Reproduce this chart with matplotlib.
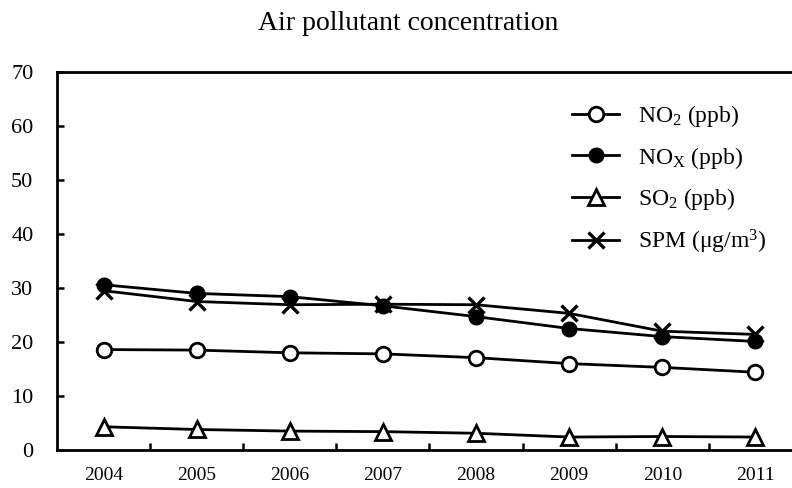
import matplotlib
matplotlib.use("Agg")
import matplotlib.pyplot as plt
from matplotlib.ticker import FixedLocator

plt.rcParams['font.family'] = ['Liberation Serif', 'DejaVu Serif']
plt.rcParams['mathtext.fontset'] = 'custom'
plt.rcParams['mathtext.rm'] = 'Liberation Serif'
plt.rcParams['mathtext.it'] = 'Liberation Serif:italic'

years = ['2004', '2005', '2006', '2007', '2008', '2009', '2010', '2011']
no2 = [18.6, 18.5, 18.0, 17.8, 17.1, 16.0, 15.3, 14.4]
nox = [30.6, 29.0, 28.4, 26.7, 24.7, 22.5, 21.0, 20.1]
so2 = [4.3, 3.8, 3.5, 3.4, 3.1, 2.4, 2.5, 2.4]
spm = [29.5, 27.5, 26.9, 27.0, 26.9, 25.3, 22.0, 21.4]

labels = [r'NO$_\mathrm{2}$ (ppb)', r'NO$_\mathrm{X}$ (ppb)',
          r'SO$_\mathrm{2}$ (ppb)', r'SPM ($\mathrm{\mu g/m}^\mathrm{3}$)']

fig = plt.figure(figsize=(7.92, 4.88), dpi=100)
# axes runs past the right edge of the picture, like the cropped original
ax = fig.add_axes([57 / 792, 1 - 450 / 488, (802 - 57) / 792, (450 - 72) / 488])

x = range(len(years))
lw = 2.0
ax.plot(x, no2, color='black', lw=lw, marker='o', ms=10.5, mfc='white', mec='black', mew=2, label=labels[0])
ax.plot(x, nox, color='black', lw=lw, marker='o', ms=10.5, mfc='black', mec='black', label=labels[1])
ax.plot(x, so2, color='black', lw=lw, marker='^', ms=11, mfc='white', mec='black', mew=2, label=labels[2])
ax.plot(x, spm, color='black', lw=lw, marker='x', ms=11, mec='black', mew=2.4, label=labels[3])

ax.set_xlim(-0.5, 7.5)
ax.set_ylim(0, 70)
ax.set_yticks(range(0, 71, 10))
ax.set_xticks(list(x))
ax.set_xticklabels(years)
ax.xaxis.set_minor_locator(FixedLocator([i + 0.5 for i in range(7)]))

ax.tick_params(axis='x', which='major', length=0, pad=12, labelsize=14)
ax.tick_params(axis='y', direction='in', length=5, width=1.8, pad=17, labelsize=16)
ax.tick_params(axis='x', which='minor', direction='in', length=5, width=1.8)

ax.spines['right'].set_visible(False)
for s in ['left', 'top', 'bottom']:
    ax.spines[s].set_linewidth(2)

leg = ax.legend(loc='upper left', bbox_to_anchor=((572 - 57) / 745, (450 - 103) / 378),
                frameon=False, borderpad=0, borderaxespad=0,
                fontsize=17, labelspacing=0.66, handlelength=2.0, handletextpad=0.8)

fig.text(408 / 792, 1 - 24 / 488, 'Air pollutant concentration', ha='center', va='center', fontsize=20)

plt.savefig('out.png', dpi=100)
plt.close()
